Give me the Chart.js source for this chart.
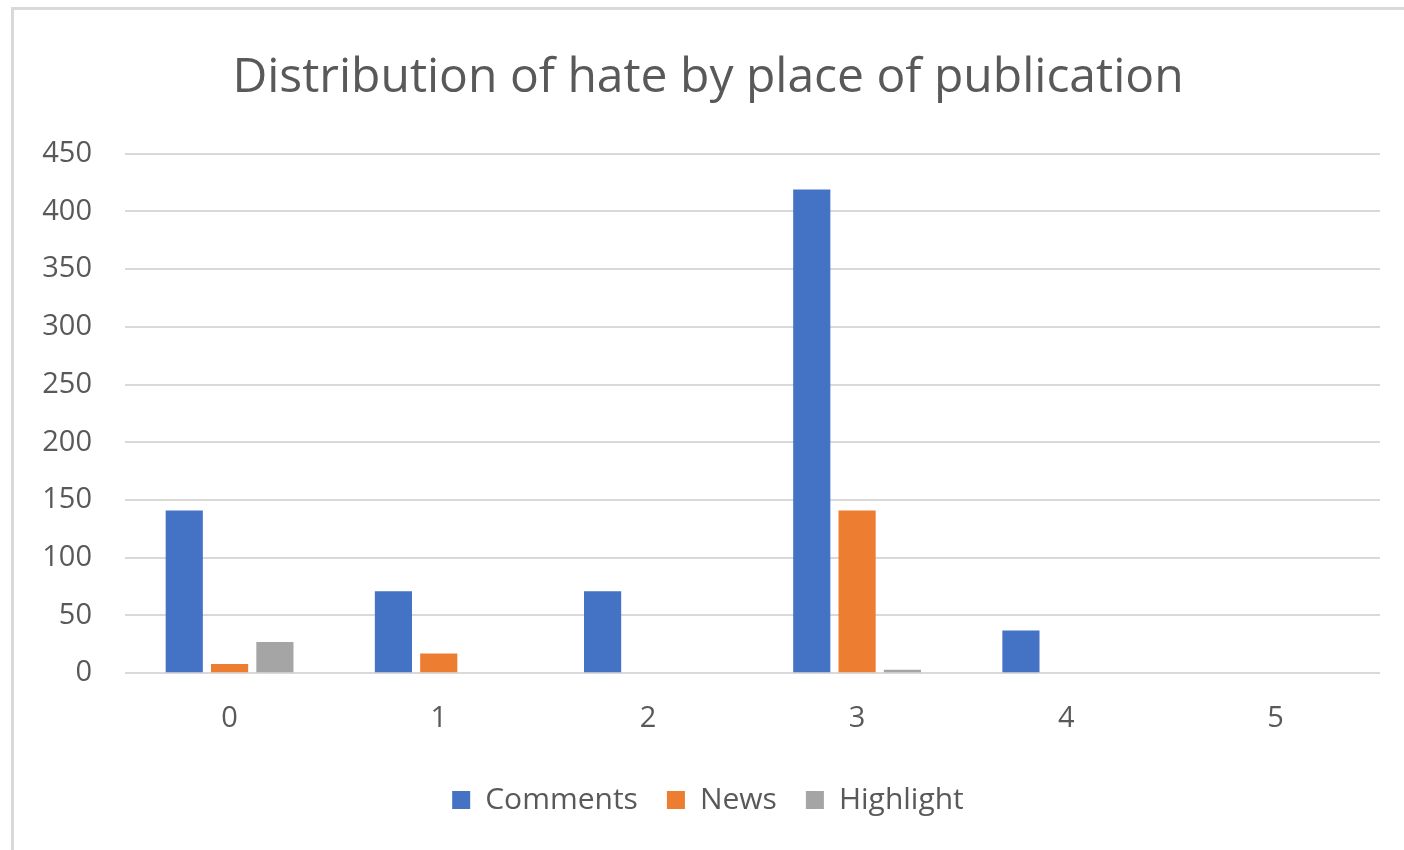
<!DOCTYPE html>
<html>
<head>
<meta charset="utf-8">
<script src="https://cdn.jsdelivr.net/npm/chart.js@4"></script>
<style>
  html, body { margin: 0; padding: 0; background: #fff; }
  #wrap { position: absolute; left: 0; top: 0; width: 1404px; height: 850px; }
  #frame { position: absolute; left: 11px; top: 7px; right: 0; bottom: 0;
           border-left: 3px solid #d9d9d9; border-top: 3px solid #d9d9d9; }
  canvas { position: absolute; left: 0; top: 0; }
</style>
</head>
<body>
<div id="wrap">
  <div id="frame"></div>
  <canvas id="chart" width="1404" height="850"></canvas>
</div>
<script>
// values
const categories = ['0', '1', '2', '3', '4', '5'];
const comments = [141, 71, 71, 419, 37, 0];
const news = [8, 17, 0, 141, 0, 0];
const highlight = [27, 0, 0, 3, 0, 0];

const textColor = '#595959';
const fontFamily = '"Open Sans", "Noto Sans", sans-serif';

new Chart(document.getElementById('chart'), {
  type: 'bar',
  data: {
    labels: categories,
    datasets: [
      { label: 'Comments', data: comments, backgroundColor: '#4472C4' },
      { label: 'News', data: news, backgroundColor: '#ED7D31' },
      { label: 'Highlight', data: highlight, backgroundColor: '#A5A5A5' }
    ]
  },
  options: {
    responsive: false,
    animation: false,
    layout: { padding: { left: 36, right: 24, top: 0, bottom: 25 } },
    datasets: { bar: { barPercentage: 0.82, categoryPercentage: 0.65 } },
    plugins: {
      title: {
        display: true,
        text: 'Distribution of hate by place of publication',
        color: textColor,
        font: { family: fontFamily, size: 48, weight: 'normal' },
        padding: { top: 50, bottom: 46 }
      },
      legend: {
        position: 'bottom',
        labels: {
          color: textColor,
          font: { family: fontFamily, size: 30 },
          boxWidth: 18, boxHeight: 18,
          padding: 29
        }
      },
      tooltip: { enabled: false }
    },
    scales: {
      x: {
        grid: { display: false },
        border: { display: false },
        ticks: { color: textColor, font: { family: fontFamily, size: 29 }, padding: 20 }
      },
      y: {
        min: 0, max: 450,
        ticks: { stepSize: 50, color: textColor, font: { family: fontFamily, size: 29 }, padding: 33 },
        grid: { color: '#d9d9d9', lineWidth: 2, drawTicks: false },
        border: { display: false },
        afterFit: (scale) => { scale.width = 89; }
      }
    }
  }
});
</script>
</body>
</html>
